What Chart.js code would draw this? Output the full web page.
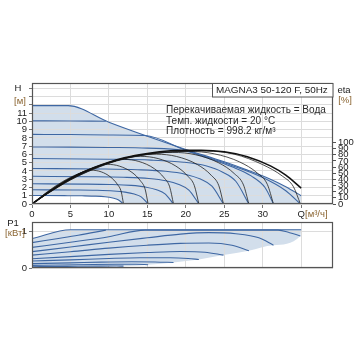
<!DOCTYPE html>
<html><head><meta charset="utf-8">
<script src="https://cdn.jsdelivr.net/npm/chart.js@4.4.0/dist/chart.umd.min.js"></script>
<style>
html,body{margin:0;padding:0;background:#fff;width:360px;height:360px;overflow:hidden;}
canvas{position:absolute;left:0;}
#top{top:0;} #bot{top:210px;}
</style></head><body>
<canvas id="top" width="360" height="226"></canvas>
<canvas id="bot" width="360" height="66"></canvas>
<script>
// ---------- axis ticks ----------
const qTicks = [0, 5, 10, 15, 20, 25, 30, 35];
const hTicks = [0, 1, 2, 3, 4, 5, 6, 7, 8, 9, 10, 11, 12, 13, 14];
const hLabelMax = 11;
const etaTicks = [0, 10, 20, 30, 40, 50, 60, 70, 80, 90, 100];
const pTicks = [0, 1];

// ---------- head curves H [m] vs Q [m3/h] ----------
const hQ1 = [0, 4.7, 10, 15, 20, 25, 28, 31, 33, 35];
const hH1 = [11.9, 11.9, 9.9, 8.2, 6.6, 5.1, 4.1, 3.0, 2.1, 1.0];
const hQ2 = [0, 5, 9.6];
const hH2 = [10.06, 10.04, 10.02];
const hQ3 = [0, 5, 10, 14.7, 20, 25, 30, 33, 34.9];
const hH3 = [8.42, 8.4, 8.35, 8.28, 6.5, 4.98, 3.2, 1.6, 0];
const hQ4 = [0, 5, 10, 15, 19.5, 23, 26, 28.5, 30.3, 31.4];
const hH4 = [6.9, 6.88, 6.84, 6.76, 6.5, 5.5, 4.5, 3.4, 2.0, 0];
const hQ5 = [0, 9.9, 15.5, 19.7, 22.6, 24.8, 26.5, 28.2];
const hH5 = [5.5, 5.42, 5.31, 5.06, 4.62, 3.85, 2.75, 0];
const hQ6 = [0, 8.7, 13.7, 17.4, 19.9, 21.9, 23.4, 24.9];
const hH6 = [4.3, 4.24, 4.15, 3.96, 3.61, 3.01, 2.15, 0];
const hQ7 = [0, 7.6, 11.9, 15.2, 17.4, 19.1, 20.4, 21.7];
const hH7 = [3.35, 3.3, 3.23, 3.08, 2.81, 2.35, 1.68, 0];
const hQ8 = [0, 6.4, 10.1, 12.9, 14.7, 16.2, 17.3, 18.4];
const hH8 = [2.45, 2.41, 2.36, 2.25, 2.06, 1.72, 1.23, 0];
const hQ9 = [0, 5.3, 8.3, 10.6, 12.1, 13.3, 14.2, 15.1];
const hH9 = [1.72, 1.69, 1.66, 1.58, 1.44, 1.2, 0.86, 0];
const hQ10 = [0, 4.2, 6.5, 8.3, 9.5, 10.5, 11.2, 11.9];
const hH10 = [1.03, 1.01, 0.99, 0.95, 0.87, 0.72, 0.52, 0];

// ---------- efficiency eta [%] ----------
const eQ1 = [0, 2, 4, 6, 8, 10, 12, 15, 18, 20, 22, 25, 28, 31, 33, 35];
const e1  = [0, 18, 34, 48, 59, 68, 75, 82, 86.5, 87.5, 87.5, 85, 77, 62, 47, 26];
const eQ3 = [0, 2, 5, 8, 11, 14, 18, 22.7, 26.3, 30, 32.6, 34, 34.9];
const e3  = [0, 16.5, 39, 56.5, 70, 78.5, 84.5, 86, 81, 64, 45, 28, 0];
const eQ4 = [0, 2, 5, 8, 11, 14, 17.5, 20.4, 23.7, 27, 29.3, 30.6, 31.4];
const e4  = [0, 17, 39.5, 57, 70.5, 79, 84.5, 85.5, 81.6, 68.4, 50.3, 32, 0];
const eQ5 = [0, 2, 5, 8, 11, 14, 18.3, 21.3, 24.3, 26.3, 27.5, 28.2];
const e5  = [0, 17, 40, 57.5, 71, 79.5, 84, 80, 66.8, 49.5, 31, 0];
const eQ6 = [0, 2, 5, 8, 11, 14, 16.2, 18.8, 21.5, 23.3, 24.3, 24.9];
const e6  = [0, 17.5, 40.5, 58, 71, 79.5, 81, 77.3, 64.2, 46.8, 29.6, 0];
const eQ7 = [0, 2, 5, 8, 11, 14.1, 16.4, 18.7, 20.3, 21.1, 21.7];
const e7  = [0, 18, 41, 58, 71.5, 77.5, 73.9, 61.7, 44.8, 30.2, 0];
const eQ8 = [0, 2, 5, 8, 10, 12, 13.9, 15.9, 17.2, 17.9, 18.4];
const e8  = [0, 18.5, 42, 59, 67.5, 72.5, 69.2, 57.5, 42.3, 28, 0];
const eQ9 = [0, 2, 4, 6, 8, 9.8, 11.4, 13, 14.1, 14.7, 15.1];
const e9  = [0, 19, 35.5, 48.5, 59, 64.5, 61.5, 51.4, 37.7, 24.5, 0];
const eQ10 = [0, 2, 4, 6, 7.7, 9, 10.2, 11.1, 11.6, 11.9];
const e10  = [0, 20, 36.5, 49, 55, 52.3, 44, 32, 20, 0];

// ---------- power P1 [kW] ----------
const pQ1 = [0, 5, 35];
const p1  = [0.8, 1.04, 1.04];
const pQ2 = [0, 3, 6, 9.6];
const p2  = [0.69, 0.79, 0.89, 1.03];
const pQ3 = [0, 5, 10, 14.7, 32, 33.5, 34.9];
const p3  = [0.56, 0.7, 0.85, 1.03, 1.03, 0.96, 0.87];
const pQ4 = [0, 5, 10, 15, 19.3, 23, 26.5, 29.5, 31.4];
const p4  = [0.445, 0.57, 0.7, 0.82, 0.92, 0.96, 0.93, 0.82, 0.62];
const pQ5 = [0, 5, 10, 15, 19.3, 23, 26, 28.2];
const p5  = [0.35, 0.44, 0.54, 0.62, 0.67, 0.68, 0.62, 0.47];
const pQ6 = [0, 5, 10, 15, 19.3, 22.5, 24.9];
const p6  = [0.25, 0.31, 0.37, 0.42, 0.45, 0.43, 0.35];
const pQ7 = [0, 5, 10, 14, 18, 20.3, 21.7];
const p7  = [0.19, 0.22, 0.26, 0.28, 0.28, 0.26, 0.23];
const pQ8 = [0, 5, 9, 13, 16, 18.4];
const p8  = [0.12, 0.14, 0.16, 0.17, 0.165, 0.15];
const pQ9 = [0, 4, 8, 11, 13.5, 15.1];
const p9  = [0.07, 0.08, 0.095, 0.1, 0.1, 0.09];
const pQ10 = [0, 3, 6, 9, 11, 11.9];
const p10  = [0.035, 0.04, 0.047, 0.052, 0.053, 0.05];

// ---------- texts ----------
const titleText = 'MAGNA3 50-120 F, 50Hz';
const infoLines = ['Перекачиваемая жидкость = Вода', 'Темп. жидкости = 20 °C', 'Плотность = 998.2 кг/м³'];

// ---------- build ----------
const FONT = "'Liberation Sans', Arial, sans-serif";
Chart.defaults.font.family = FONT;
Chart.defaults.font.size = 9.5;
Chart.defaults.color = '#222';
const BLUE = '#3e67a3', FILL = '#d2deeb', GRID = '#dcdcdc', FRAME = '#555', UNIT = '#8a6430';
const last = a => a[a.length - 1];
const pts = (xs, ys) => xs.map((x, i) => ({x: x, y: ys[i]}));
function ds(data, color, width, axis) {
  return {data: data, borderColor: color, borderWidth: width, pointRadius: 0, fill: false,
          cubicInterpolationMode: 'monotone', yAxisID: axis};
}

const hQs = [hQ1, hQ2, hQ3, hQ4, hQ5, hQ6, hQ7, hQ8, hQ9, hQ10];
const hHs = [hH1, hH2, hH3, hH4, hH5, hH6, hH7, hH8, hH9, hH10];
const eArcsQ = [eQ3, eQ4, eQ5, eQ6, eQ7, eQ8, eQ9, eQ10];
const eArcs = [e3, e4, e5, e6, e7, e8, e9, e10];
const pQs = [pQ1, pQ2, pQ3, pQ4, pQ5, pQ6, pQ7, pQ8, pQ9, pQ10];
const pPs = [p1, p2, p3, p4, p5, p6, p7, p8, p9, p10];

// lower boundary of shaded region: min curve, then curve end points, then max curve end
function lowerBoundary(qs, vs) {
  const out = pts(qs[9], vs[9]);
  for (let k = 8; k >= 2; k--) out.push({x: last(qs[k]), y: last(vs[k])});
  out.push({x: last(qs[0]), y: last(vs[0])});
  return out;
}

const topDs = [];
topDs.push(ds(pts(eQ1, e1), '#111', 1.6, 'y2'));
eArcs.forEach((e, i) => topDs.push(ds(pts(eArcsQ[i], e), 'rgba(25,25,25,0.85)', 0.9, 'y2')));
const firstBlue = topDs.length;
hQs.forEach((q, i) => topDs.push(ds(pts(q, hHs[i]), BLUE, 1.1, 'y')));
topDs.push(ds(lowerBoundary(hQs, hHs), 'rgba(0,0,0,0)', 0, 'y'));
topDs[firstBlue].fill = {target: topDs.length - 1};
topDs[firstBlue].backgroundColor = FILL;

const botDs = [];
pQs.forEach((q, i) => botDs.push(ds(pts(q, pPs[i]), BLUE, 1.1, 'y')));
botDs.push(ds(lowerBoundary(pQs, pPs), 'rgba(0,0,0,0)', 0, 'y'));
botDs[0].fill = {target: botDs.length - 1};
botDs[0].backgroundColor = FILL;

function frame(chart) {
  const ctx = chart.ctx, a = chart.chartArea;
  ctx.save();
  ctx.strokeStyle = FRAME; ctx.lineWidth = 1.2;
  ctx.strokeRect(Math.round(a.left) + 0.5, Math.round(a.top) + 0.5,
                 Math.round(a.right - a.left) - 1, Math.round(a.bottom - a.top) - 1);
  ctx.restore();
}
function fitSize(ctx, text, target, base) {
  ctx.font = base + 'px ' + FONT;
  return base * target / ctx.measureText(text).width;
}
function txt(ctx, s, x, y, color, size, align) {
  ctx.font = size + 'px ' + FONT; ctx.fillStyle = color;
  ctx.textAlign = align || 'left'; ctx.textBaseline = 'middle';
  ctx.fillText(s, x, y);
}

const topPlugin = {
  id: 'topDeco',
  afterDatasetsDraw(chart) {
    frame(chart);
    const ctx = chart.ctx, a = chart.chartArea;
    ctx.save();
    ctx.fillStyle = '#fff';
    ctx.fillRect(212, a.top, a.right - 212, 14);
    ctx.strokeStyle = FRAME; ctx.lineWidth = 1;
    ctx.strokeRect(212.5, a.top + 0.5, a.right - 212.5, 13.5);
    const ts = fitSize(ctx, titleText, 112, 10);
    txt(ctx, titleText, 216, a.top + 7.5, '#222', ts);
    const is = fitSize(ctx, infoLines[0], 160, 10);
    txt(ctx, infoLines[0], 166, 110.5, '#2a2a2a', is);
    txt(ctx, infoLines[1], 166, 121, '#2a2a2a', is);
    txt(ctx, infoLines[2], 166, 131.5, '#2a2a2a', is);
    ctx.restore();
  },
  afterDraw(chart) {
    const ctx = chart.ctx;
    ctx.save();
    txt(ctx, 'H', 18, 88, '#222', 9.5, 'center');
    txt(ctx, '[м]', 20, 101, UNIT, 9.5, 'center');
    txt(ctx, 'eta', 344, 90, '#222', 9.5, 'center');
    txt(ctx, '[%]', 345, 100.5, UNIT, 9.5, 'center');
    txt(ctx, '[м³/ч]', 305, 214, UNIT, 9.5, 'left');
    ctx.restore();
  }
};
const botPlugin = {
  id: 'botDeco',
  afterDatasetsDraw(chart) { frame(chart); },
  afterDraw(chart) {
    const ctx = chart.ctx;
    ctx.save();
    txt(ctx, 'P1', 13, 13, '#222', 9.5, 'center');
    txt(ctx, '[кВт]', 15, 23.5, UNIT, 9.5, 'center');
    ctx.restore();
  }
};

const common = {responsive: false, animation: false, devicePixelRatio: 1, events: []};

new Chart(document.getElementById('top'), {
  type: 'line',
  data: {datasets: topDs},
  options: Object.assign({}, common, {
    layout: {padding: {top: 83, left: 0, right: 0, bottom: 0}},
    plugins: {legend: {display: false}, tooltip: {enabled: false}, filler: {drawTime: 'beforeDraw'}},
    scales: {
      x: {type: 'linear', min: 0, max: 39.14,
          afterBuildTicks: s => { s.ticks = qTicks.map(v => ({value: v})); },
          ticks: {autoSkip: false, maxRotation: 0, padding: 1, callback: v => v === 35 ? 'Q' : String(v)},
          grid: {color: GRID, tickLength: 4, tickColor: '#777'}, border: {display: false},
          afterFit: s => { s.height = 22; }},
      y: {type: 'linear', position: 'left', min: 0, max: 14.64,
          afterBuildTicks: s => { s.ticks = hTicks.map(v => ({value: v})); },
          ticks: {autoSkip: false, padding: 2, callback: v => v <= hLabelMax ? String(v) : ''},
          grid: {color: GRID, tickLength: 3, tickColor: '#777'}, border: {display: false},
          afterFit: s => { s.width = 32; }},
      y2: {type: 'linear', position: 'right', min: 0, max: 196.8,
          afterBuildTicks: s => { s.ticks = etaTicks.map(v => ({value: v})); },
          ticks: {autoSkip: false, padding: 2},
          grid: {drawOnChartArea: false, tickLength: 3, tickColor: '#555'}, border: {display: false},
          afterFit: s => { s.width = 27; }}
    }
  }),
  plugins: [topPlugin]
});

new Chart(document.getElementById('bot'), {
  type: 'line',
  data: {datasets: botDs},
  options: Object.assign({}, common, {
    layout: {padding: {top: 12, left: 0, right: 27, bottom: 0}},
    plugins: {legend: {display: false}, tooltip: {enabled: false}, filler: {drawTime: 'beforeDraw'}},
    scales: {
      x: {type: 'linear', min: 0, max: 39.14,
          afterBuildTicks: s => { s.ticks = qTicks.map(v => ({value: v})); },
          ticks: {display: false},
          grid: {color: GRID, drawTicks: false}, border: {display: false},
          afterFit: s => { s.height = 8; }},
      y: {type: 'linear', position: 'left', min: 0, max: 1.25,
          afterBuildTicks: s => { s.ticks = pTicks.map(v => ({value: v})); },
          ticks: {autoSkip: false, padding: 2},
          grid: {color: GRID, tickLength: 3, tickColor: '#777'}, border: {display: false},
          afterFit: s => { s.width = 32; }}
    }
  }),
  plugins: [botPlugin]
});
</script></body></html>
